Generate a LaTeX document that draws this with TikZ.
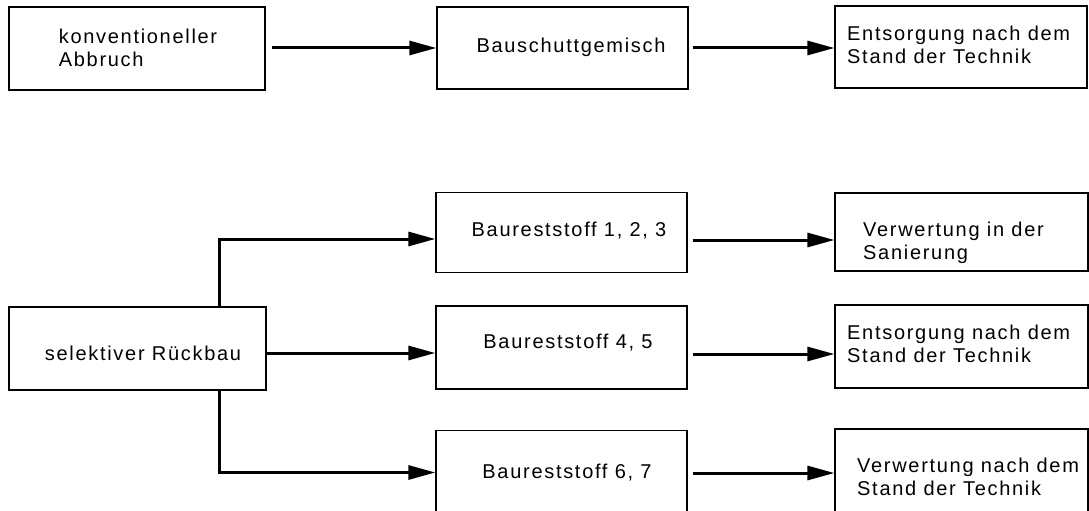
\documentclass[tikz,border=0pt]{standalone}
\usepackage{fontspec}
\setmainfont{Liberation Sans}[LetterSpace=8.5]
\usetikzlibrary{arrows.meta}
\begin{document}
\begin{tikzpicture}[x=1pt,y=-1pt,
  box/.style 2 args={draw, line width=1.3pt, rectangle, inner sep=0pt,
    minimum width=#1, minimum height=#2},
  txt/.style={inner sep=0pt, font=\fontsize{20}{23.5}\selectfont},
  arr/.style={line width=3pt, -{Triangle[length=27pt,width=14pt]}}]
\useasboundingbox (0,0) rectangle (1089,511);
\clip (0,0) rectangle (1089,511);

% boxes
\node[box={256pt}{83pt}] (abb)   at (137,48.5)   {};
\node[box={251pt}{82pt}] (misch) at (562.5,48)   {};
\node[box={252pt}{82pt}] (ent)   at (961,47)     {};
\node[box={251pt}{80pt}] (b1)    at (561.5,232.5){};
\node[box={253pt}{78pt}] (v1)    at (961.5,232)  {};
\node[box={257pt}{83pt}] (sel)   at (137.5,348.5){};
\node[box={251pt}{83pt}] (b2)    at (561.5,347.5){};
\node[box={253pt}{83pt}] (c2)    at (961.5,346.5){};
\node[box={251pt}{84pt}] (b3)    at (561.5,472.5){};
\node[box={253pt}{86pt}] (v3)    at (961.5,472)  {};

% labels
\node[txt, align=left] at (138,48) {konventioneller\\Abbruch};
\node[txt] at (571,47) {Bauschuttgemisch};
\node[txt, align=left, anchor=west] at (847,45) {Entsorgung nach dem\\Stand der Technik};
\node[txt] at (569,231) {Baureststoff 1, 2, 3};
\node[txt, align=left, anchor=west] at (863,243) {Verwertung in der\\Sanierung};
\node[txt] at (143,353) {selektiver Rückbau};
\node[txt] at (568,343) {Baureststoff 4, 5};
\node[txt, align=left, anchor=west] at (847,344) {Entsorgung nach dem\\Stand der Technik};
\node[txt] at (567,473) {Baureststoff 6, 7};
\node[txt, align=left, anchor=west] at (857,477) {Verwertung nach dem\\Stand der Technik};

% connectors
\coordinate (trunk) at (219,300);
\draw[arr] ([xshift=6pt]abb.east |- misch.west) -- (misch.west);
\draw[arr] ([xshift=4pt]misch.east) -- (misch.east -| ent.west);
\draw[arr] (sel.north -| trunk) |- ([yshift=-6.5pt]b1.west);
\draw[arr] ([xshift=5pt,yshift=-7.5pt]b1.east) -- ([yshift=-7.5pt]b1.east -| v1.west);
\draw[arr] ([yshift=-4.5pt]sel.east) -- ([yshift=-4.5pt]sel.east -| b2.west);
\draw[arr] ([xshift=5pt,yshift=-6.5pt]b2.east) -- ([yshift=-6.5pt]b2.east -| c2.west);
\draw[arr] (sel.south -| trunk) |- (b3.west);
\draw[arr] ([xshift=5pt,yshift=-0.5pt]b3.east) -- ([yshift=-0.5pt]b3.east -| v3.west);
\end{tikzpicture}
\end{document}
